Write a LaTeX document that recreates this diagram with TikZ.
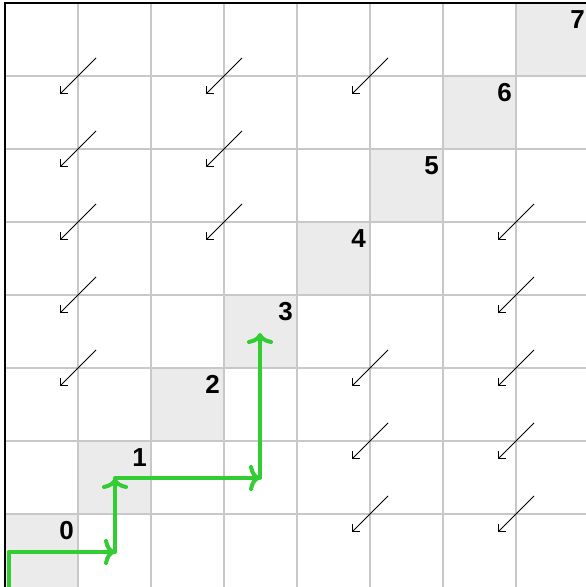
\documentclass[tikz,border=0pt]{standalone}
\usepackage{fontspec}
\setmainfont{Liberation Sans}
\usetikzlibrary{arrows.meta}
\definecolor{cellgray}{RGB}{235,235,235}
\definecolor{gridgray}{RGB}{200,200,200}
\definecolor{pathgreen}{RGB}{50,205,50}
\begin{document}
\begin{tikzpicture}[x=1pt,y=1pt,
  diag/.style={minimum size=73pt, inner sep=0pt, fill=cellgray, draw=none},
  num/.style={font=\fontsize{26}{26}\selectfont\bfseries, anchor=base east, inner sep=0pt},
  gridline/.style={draw=gridgray, line width=1.3pt},
  dep/.style={draw=black, line width=0.9pt, -{Straight Barb[length=5pt,width=10pt]}},
  route/.style={draw=pathgreen, line width=4pt, line cap=round, line join=round, -{To[length=11pt,width=26pt]}},
]
\useasboundingbox (0,0) rectangle (586,587);
\begin{scope}
\clip (0,0) rectangle (586,587);
% diagonal cells
\foreach \k in {0,...,7} {
  \node[diag] (c\k) at ({5+73*\k+36.5},{73*\k+36.5}) {};
}
% grid
\foreach \a in {1,...,7} {
  \coordinate (vb\a) at ({5+73*\a},0);
  \coordinate (vt\a) at ({5+73*\a},584);
  \draw[gridline] (vb\a) -- (vt\a);
}
\foreach \b in {1,...,7} {
  \coordinate (hl\b) at (5,{73*\b});
  \coordinate (hr\b) at (590,{73*\b});
  \draw[gridline] (hl\b) -- (hr\b);
}
% borders
\coordinate (bl) at (5,-2);
\coordinate (tl) at (5,584);
\coordinate (tr) at (590,584);
\draw[line width=2pt] (bl) -- (tl) -- (tr);
% labels
\foreach \k in {0,...,7} {
  \node[num] (n\k) at ({5+73*(\k+1)-4},{73*(\k+1)-26}) {\k};
}
% dependency arrows
\foreach \a/\b in {1/3,1/4,1/5,1/6,1/7,3/5,3/6,3/7,5/7,5/3,5/2,5/1,7/5,7/4,7/3,7/2,7/1} {
  \coordinate (s\a\b) at ({5+73*\a+18},{73*\b+18});
  \coordinate (e\a\b) at ({5+73*\a-18},{73*\b-18});
  \draw[dep] (s\a\b) -- (e\a\b);
}
% green route
\coordinate (g0) at (8.5,-4);
\coordinate (g1) at (8.5,35);
\coordinate (g2) at (115,35);
\coordinate (g3) at (115,109);
\coordinate (g4) at (260,109);
\coordinate (g5) at (260,254);
\draw[route] (g0) -- (g1) -- (g2);
\draw[route] (g2) -- (g3);
\draw[route] (g3) -- (g4);
\draw[route] (g4) -- (g5);
\end{scope}
\end{tikzpicture}
\end{document}
